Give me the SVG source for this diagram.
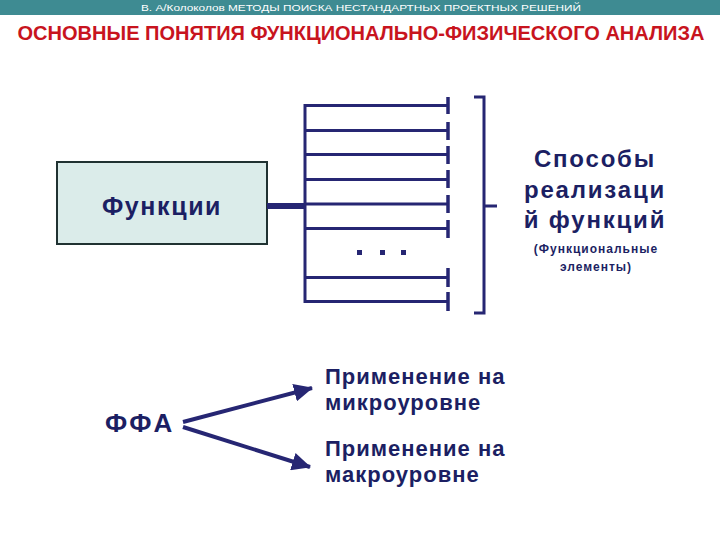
<svg xmlns="http://www.w3.org/2000/svg" width="720" height="540" viewBox="0 0 720 540">
<style>
.ln{stroke:#262673;stroke-width:3;fill:none}
.tk{stroke:#262673;stroke-width:3.5;fill:none}
.tx{font-family:"Liberation Sans",Arial,sans-serif;font-weight:bold;fill:#1c1f63}
</style>
<defs>
<marker id="ah" markerUnits="userSpaceOnUse" markerWidth="20" markerHeight="18" refX="18" refY="9" orient="auto">
<path d="M0,0 L19,9 L0,18 Z" fill="#262673"/>
</marker>
</defs>
<rect width="720" height="540" fill="#ffffff"/>
<g id="header">
<rect x="0" y="0" width="720" height="15" fill="#3e8b92"/>
<text x="361" y="11" font-family="'Liberation Sans',Arial,sans-serif" font-size="9.5" fill="#ffffff" text-anchor="middle" textLength="440" lengthAdjust="spacingAndGlyphs">В. А/Колоколов МЕТОДЫ ПОИСКА НЕСТАНДАРТНЫХ ПРОЕКТНЫХ РЕШЕНИЙ</text>
</g>
<g id="title">
<text x="361" y="40" font-family="'Liberation Sans',Arial,sans-serif" font-size="20" font-weight="bold" fill="#c8141e" text-anchor="middle" textLength="687" lengthAdjust="spacingAndGlyphs">ОСНОВНЫЕ ПОНЯТИЯ ФУНКЦИОНАЛЬНО-ФИЗИЧЕСКОГО АНАЛИЗА</text>
</g>
<g id="functions">
<rect x="57" y="162" width="210" height="82" fill="#dbecea" stroke="#203232" stroke-width="2"/>
<text class="tx" x="162" y="215" font-size="25" text-anchor="middle" letter-spacing="1.6">Функции</text>
</g>
<g id="connectors">
<line x1="267" y1="206" x2="305" y2="206" stroke="#262673" stroke-width="6"/>
<line class="ln" x1="305" y1="104" x2="305" y2="303"/>
<line class="ln" x1="305" y1="105.5" x2="448" y2="105.5"/>
<line class="ln" x1="305" y1="130.5" x2="448" y2="130.5"/>
<line class="ln" x1="305" y1="154.5" x2="448" y2="154.5"/>
<line class="ln" x1="305" y1="179.5" x2="448" y2="179.5"/>
<line class="ln" x1="305" y1="204" x2="448" y2="204"/>
<line class="ln" x1="305" y1="228.5" x2="448" y2="228.5"/>
<line class="ln" x1="305" y1="277.5" x2="448" y2="277.5"/>
<line class="ln" x1="305" y1="301.5" x2="448" y2="301.5"/>
<g class="tk">
<line x1="448" y1="97" x2="448" y2="114"/>
<line x1="448" y1="122" x2="448" y2="140"/>
<line x1="448" y1="146" x2="448" y2="164"/>
<line x1="448" y1="170" x2="448" y2="188"/>
<line x1="448" y1="195" x2="448" y2="213"/>
<line x1="448" y1="220" x2="448" y2="238"/>
<line x1="448" y1="268" x2="448" y2="287"/>
<line x1="448" y1="292" x2="448" y2="311"/>
</g>
<path class="ln" d="M474,97 H484 V313 H474 M484,206 H497"/>
<line x1="183" y1="422" x2="312" y2="388" stroke="#262673" stroke-width="4" marker-end="url(#ah)"/>
<line x1="183" y1="427" x2="310" y2="467" stroke="#262673" stroke-width="4" marker-end="url(#ah)"/>
</g>
<g id="dots" fill="#262673">
<rect x="357" y="250" width="5" height="5"/>
<rect x="380" y="250" width="5" height="5"/>
<rect x="401" y="250" width="5" height="5"/>
</g>
<g id="methods">
<text class="tx" font-size="24" text-anchor="middle" letter-spacing="1.8"><tspan x="595" y="167">Способы</tspan><tspan x="595" y="198">реализаци</tspan><tspan x="595" y="228">й функций</tspan></text>
<text class="tx" font-size="12" text-anchor="middle" letter-spacing="1" font-weight="bold"><tspan x="596" y="253">(Функциональные</tspan><tspan x="596" y="271">элементы)</tspan></text>
</g>
<g id="ffa">
<text class="tx" x="105" y="432" font-size="26" letter-spacing="2.5">ФФА</text>
</g>
<g id="micro">
<text class="tx" font-size="22" letter-spacing="1"><tspan x="325" y="384">Применение на</tspan><tspan x="325" y="410">микроуровне</tspan></text>
</g>
<g id="macro">
<text class="tx" font-size="22" letter-spacing="1"><tspan x="325" y="456">Применение на</tspan><tspan x="325" y="482">макроуровне</tspan></text>
</g>
</svg>
